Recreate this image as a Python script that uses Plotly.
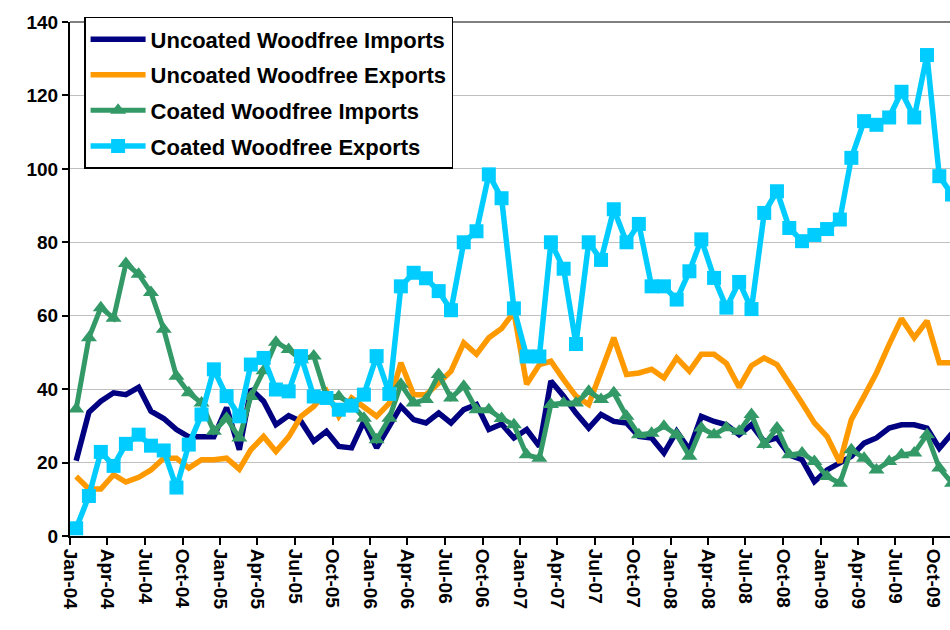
import pandas as pd
import plotly.graph_objects as go

months = pd.date_range("2004-01-01", periods=71, freq="MS")
mid_month = months + pd.Timedelta(days=15)

uncoated_imports = [20.5, 33.7, 36.7, 39, 38.5, 40.5, 34, 32, 29, 27, 27, 27,
                    35, 23.5, 40, 36.7, 30.3, 32.8, 31.2, 25.8, 28.5, 24.4, 24, 31.2,
                    24, 30.3, 35.3, 31.7, 30.8, 33.5, 30.8, 34.4, 35.8, 29, 30.5, 26.7,
                    29, 24.4, 42.2, 38.1, 33.5, 29.4, 33.1, 31.2, 30.8, 27.1, 26.7, 22.6,
                    28.5, 23.5, 32.6, 31.2, 30.3, 27.6, 30.3, 25.7, 26.7, 22.1, 20.8, 14.8,
                    18, 19.9, 21.7, 25.3, 26.7, 29.4, 30.3, 30.3, 29.4, 23.9, 28]
uncoated_exports = [16.2, 12.8, 12.8, 16.7, 14.7, 16, 18, 21.2, 21.2, 18.5, 20.8, 20.8,
                    21.2, 18.2, 23.5, 27.1, 23, 27, 32.6, 35.3, 39.4, 32.6, 37.6, 35.3,
                    32.6, 36.2, 47.2, 38.5, 38.5, 41.7, 44.9, 52.6, 49.5, 54, 56.5, 61,
                    41.3, 46.7, 47.6, 42.6, 38.1, 35.8, 44.4, 54, 44, 44.4, 45.4, 43.1,
                    48.5, 44.9, 49.5, 49.5, 47, 40.5, 46.4, 48.5, 46.7, 41.7, 36.2, 30.8,
                    27.1, 20, 31.7, 38.1, 44.4, 52.2, 59.2, 54, 58.6, 47.2, 47.2]
coated_imports = [34.6, 54, 62.2, 59.3, 74.2, 71.3, 66.3, 56.3, 43.5, 39, 36.2, 28.5,
                  32.1, 26.7, 38, 45, 52.8, 50.8, 48, 49, 38, 38, 36, 32.1,
                  26.2, 32.1, 41.3, 36.2, 37.2, 44, 37.6, 40.8, 34.4, 34.4, 32, 30.3,
                  22.1, 21.2, 35.8, 36.2, 36.2, 39.4, 37.2, 39, 32.6, 27.6, 28, 29.9,
                  27.6, 21.7, 29.4, 27.6, 29.5, 28.5, 33.1, 24.9, 29.4, 22.1, 22.6, 20.3,
                  16.2, 14.4, 23.5, 21.2, 18, 20.3, 22.1, 22.6, 27.6, 18.5, 14.4]
coated_exports = [2.1, 10.9, 22.9, 19.1, 25.1, 27.6, 24.6, 23.3, 13.2, 24.9, 33.1, 45.4,
                  38.1, 32.6, 46.7, 48.5, 39.9, 39.4, 49, 38, 37.6, 34.4, 35.5, 38.5,
                  49, 38.7, 68, 71.7, 70.2, 66.7, 61.5, 80, 83, 98.5, 92, 62,
                  48.9, 48.9, 80, 72.8, 52.3, 80, 75.2, 89, 80, 85, 68, 68,
                  64.4, 72.1, 80.8, 70.3, 62.2, 69.2, 61.8, 88, 93.9, 83.9, 80.3, 82,
                  83.6, 86.2, 103, 113, 112, 114, 121, 114, 131, 98, 93]

series_names = ["Uncoated Woodfree Imports", "Uncoated Woodfree Exports",
                "Coated Woodfree Imports", "Coated Woodfree Exports"]

FONT = "Arial, Liberation Sans, sans-serif"

fig = go.Figure()
fig.add_trace(go.Scatter(x=mid_month, y=uncoated_imports, name=series_names[0],
                         mode="lines", line=dict(color="#000080", width=5.5),
                         legendgroup="a"))
fig.add_trace(go.Scatter(x=mid_month, y=uncoated_exports, name=series_names[1],
                         mode="lines", line=dict(color="#FF9900", width=5.5),
                         legendgroup="b"))
fig.add_trace(go.Scatter(x=mid_month, y=coated_imports, name=series_names[2],
                         mode="lines+markers", line=dict(color="#339966", width=5),
                         marker=dict(symbol="triangle-up", size=14, color="#339966"),
                         legendgroup="c"))
fig.add_trace(go.Scatter(x=mid_month, y=coated_exports, name=series_names[3],
                         mode="lines+markers", line=dict(color="#00CCFF", width=5.5),
                         marker=dict(symbol="square", size=14, color="#00CCFF"),
                         legendgroup="d"))

fig.update_layout(
    width=950, height=630,
    margin=dict(l=70, r=0, t=22, b=94),
    paper_bgcolor="white", plot_bgcolor="white",
    font=dict(family=FONT, color="black"),
    showlegend=True,
    legend=dict(x=0.016, y=1.01, xanchor="left", yanchor="top",
                bgcolor="white", bordercolor="black", borderwidth=1.5,
                font=dict(size=22, family=FONT, color="black", weight="bold"),
                tracegroupgap=4, itemwidth=55),
    shapes=[dict(type="line", xref="paper", yref="paper", x0=0, x1=1, y0=1, y1=1,
                 line=dict(color="#808080", width=2))],
)
fig.update_xaxes(
    range=["2004-01-01", "2009-11-11"],
    tick0="2004-01-01", dtick="M3", tickformat="%b-%y",
    tickangle=90, ticks="outside", ticklen=7, tickwidth=1.5, tickcolor="black",
    showline=True, linecolor="black", linewidth=2,
    showgrid=False, zeroline=False,
    tickfont=dict(size=19, family=FONT, color="black", weight="bold"),
)
fig.update_yaxes(
    range=[0, 140], dtick=20,
    ticks="outside", ticklen=6, tickwidth=1.5, tickcolor="black",
    showline=True, linecolor="black", linewidth=2,
    showgrid=True, gridcolor="#c0c0c0", gridwidth=1, zeroline=False,
    tickfont=dict(size=19, family=FONT, color="black", weight="bold"),
)

fig.write_html("out.html")
